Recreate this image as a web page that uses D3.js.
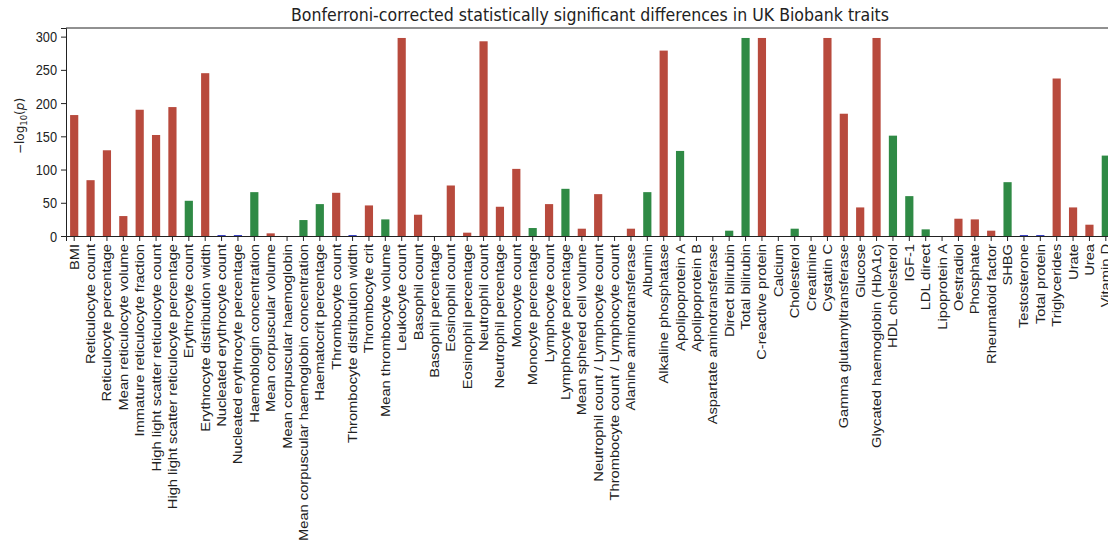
<!DOCTYPE html>
<html>
<head>
<meta charset="utf-8">
<script src="https://cdn.jsdelivr.net/npm/d3@7"></script>
<style>
  html, body { margin: 0; padding: 0; background: #fff; }
  svg { display: block; font-family: "DejaVu Sans", sans-serif; }
</style>
</head>
<body>
<svg id="chart" width="1108" height="547"></svg>
<script>
const categories = [
  "BMI", "Reticulocyte count", "Reticulocyte percentage", "Mean reticulocyte volume",
  "Immature reticulocyte fraction", "High light scatter reticulocyte count",
  "High light scatter reticulocyte percentage", "Erythrocyte count",
  "Erythrocyte distribution width", "Nucleated erythrocyte count",
  "Nucleated erythrocyte percentage", "Haemoblogin concentration",
  "Mean corpuscular volume", "Mean corpuscular haemoglobin",
  "Mean corpuscular haemoglobin concentration", "Haematocrit percentage",
  "Thrombocyte count", "Thrombocyte distribution width", "Thrombocyte crit",
  "Mean thrombocyte volume", "Leukocyte count", "Basophil count",
  "Basophil percentage", "Eosinophil count", "Eosinophil percentage",
  "Neutrophil count", "Neutrophil percentage", "Monocyte count",
  "Monocyte percentage", "Lymphocyte count", "Lymphocyte percentage",
  "Mean sphered cell volume", "Neutrophil count / Lymphocyte count",
  "Thrombocyte count / Lymphocyte count", "Alanine aminotransferase", "Albumin",
  "Alkaline phosphatase", "Apolipoprotein A", "Apolipoprotein B",
  "Aspartate aminotransferase", "Direct bilirubin", "Total bilirubin",
  "C-reactive protein", "Calcium", "Cholesterol", "Creatinine", "Cystatin C",
  "Gamma glutamyltransferase", "Glucose", "Glycated haemoglobin (HbA1c)",
  "HDL cholesterol", "IGF-1", "LDL direct", "Lipoprotein A", "Oestradiol",
  "Phosphate", "Rheumatoid factor", "SHBG", "Testosterone", "Total protein",
  "Triglycerides", "Urate", "Urea", "Vitamin D"
];
const values = [
  182, 84, 129, 30, 190, 152, 194, 53, 245, 1.5,
  1.5, 66, 4, 0, 24, 48, 65, 1.5, 46, 25,
  298, 32, 0, 76, 5, 293, 44, 101, 12, 48,
  71, 11, 63, 0, 11, 66, 279, 128, 0, 0,
  8, 298, 298, 0, 11, 0, 298, 184, 43, 298,
  151, 60, 10, 0, 26, 25, 8, 81, 1.5, 1.5,
  237, 43, 17, 121
];
// colour group of each bar: r = red, g = green, b = blue
const direction = [
  "r","r","r","r","r","r","r","g","r","b",
  "b","g","r","r","g","g","r","b","r","g",
  "r","r","r","r","r","r","r","r","g","r",
  "g","r","r","r","r","g","r","g","g","g",
  "g","g","r","r","g","g","r","r","r","r",
  "g","g","g","g","r","r","r","g","b","b",
  "r","r","r","g"
];
const yTicks = [0, 50, 100, 150, 200, 250, 300];
const titleText = "Bonferroni-corrected statistically significant differences in UK Biobank traits";

const colorMap = { r: "#b84a3d", g: "#2f8a45", b: "#3b44c4" };
const STRETCH = 1.13; // reference glyphs are taller than they are wide

const svg = d3.select("#chart");
const mLeft = 66, mRight = 1114, mTop = 28, mBottom = 236;

const x = d3.scaleBand()
  .domain(categories)
  .range([mLeft, mRight])
  .paddingInner(0.5)
  .paddingOuter(0.25);

const y = d3.scaleLinear().domain([0, 313]).range([mBottom, mTop]);

// bars
svg.append("g").selectAll("rect")
  .data(categories)
  .join("rect")
  .attr("x", d => x(d))
  .attr("width", x.bandwidth())
  .attr("y", (d, i) => y(values[i]))
  .attr("height", (d, i) => y(0) - y(values[i]))
  .attr("fill", (d, i) => colorMap[direction[i]]);

// x axis
const xAxis = svg.append("g")
  .attr("transform", `translate(0,${mBottom})`)
  .call(d3.axisBottom(x).tickSizeOuter(0).tickSize(5).tickPadding(3));
xAxis.select(".domain").attr("stroke", "#222");
xAxis.selectAll(".tick line").attr("stroke", "#222");
xAxis.selectAll(".tick text")
  .attr("font-size", 13)
  .attr("fill", "#222")
  .attr("text-anchor", "end")
  .attr("dy", "0.35em")
  .attr("transform", `rotate(-90) scale(${STRETCH},1)`)
  .attr("x", -8 / STRETCH)
  .attr("y", 0);

// y axis
const yAxis = svg.append("g")
  .attr("transform", `translate(${mLeft},0)`)
  .call(d3.axisLeft(y).tickValues(yTicks).tickSizeOuter(0).tickSize(5).tickPadding(4));
yAxis.select(".domain").attr("stroke", "#222");
yAxis.selectAll(".tick line").attr("stroke", "#222");
yAxis.selectAll(".tick text")
  .attr("font-size", 12.8)
  .attr("fill", "#222")
  .attr("y", 0)
  .attr("dy", "0.35em")
  .attr("transform", `scale(1,${STRETCH})`);

// top spine
svg.append("line")
  .attr("x1", mLeft).attr("x2", mRight)
  .attr("y1", mTop).attr("y2", mTop)
  .attr("stroke", "#222");

// title
svg.append("text")
  .attr("transform", `translate(${(mLeft + mRight) / 2},21) scale(1,${STRETCH})`)
  .attr("text-anchor", "middle")
  .attr("font-size", 15.8)
  .attr("fill", "#222")
  .text(titleText);

// y label
const yl = svg.append("text")
  .attr("transform", `translate(24,126) rotate(-90)`)
  .attr("text-anchor", "middle")
  .attr("font-size", 12)
  .attr("fill", "#222");
yl.append("tspan").text("\u2212log");
yl.append("tspan").attr("font-size", 8.5).attr("dy", 3).text("10");
yl.append("tspan").attr("dy", -3).text("(");
yl.append("tspan").attr("font-style", "italic").text("p");
yl.append("tspan").text(")");
</script>
</body>
</html>
